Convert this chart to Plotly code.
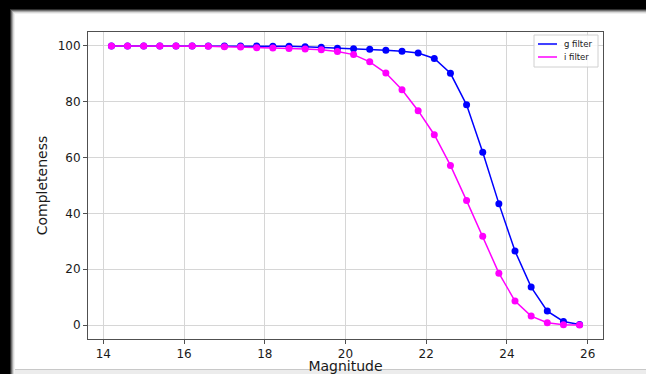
import plotly.graph_objects as go

magnitude = [14.2, 14.6, 15.0, 15.4, 15.8, 16.2, 16.6, 17.0, 17.4, 17.8,
             18.2, 18.6, 19.0, 19.4, 19.8, 20.2, 20.6, 21.0, 21.4, 21.8,
             22.2, 22.6, 23.0, 23.4, 23.8, 24.2, 24.6, 25.0, 25.4, 25.8]
g_filter = [100.0, 100.0, 100.0, 100.0, 100.0, 100.0, 100.0, 100.0, 100.0, 100.0,
            99.9, 99.9, 99.7, 99.5, 99.2, 99.0, 98.8, 98.5, 98.1, 97.5,
            95.5, 90.2, 78.9, 61.9, 43.5, 26.5, 13.6, 5.0, 1.3, 0.2]
i_filter = [100.0, 100.0, 100.0, 100.0, 100.0, 100.0, 99.9, 99.7, 99.6, 99.4,
            99.3, 99.1, 98.9, 98.6, 98.0, 96.9, 94.3, 90.3, 84.3, 76.8,
            68.2, 57.2, 44.6, 31.8, 18.6, 8.6, 3.2, 0.8, 0.1, 0.0]
series_names = ["g filter", "i filter"]
series_colors = ["#0000ff", "#ff00ff"]
x_ticks = [14, 16, 18, 20, 22, 24, 26]
y_ticks = [0, 20, 40, 60, 80, 100]

W, H = 646, 374
L, R, T, B = 88, 43, 32, 35
PW, PH = W - L - R, H - T - B

def px(x):
    return (x - L) / PW

def py(y):
    return (H - B - y) / PH

FONT = "DejaVu Sans"
fig = go.Figure()

for name, vals, col in zip(series_names, [g_filter, i_filter], series_colors):
    fig.add_trace(go.Scatter(
        x=magnitude, y=vals, mode="lines+markers", name=name,
        line=dict(color=col, width=1.5),
        marker=dict(color=col, size=7),
        showlegend=False,
    ))

shapes = []
annotations = []
# dark screenshot frame (top and left), with soft edge
shapes.append(dict(type="rect", xref="paper", yref="paper",
                   x0=px(0), x1=px(W), y0=py(9), y1=py(0),
                   fillcolor="black", line=dict(width=0), layer="above"))
shapes.append(dict(type="rect", xref="paper", yref="paper",
                   x0=px(0), x1=px(10), y0=py(H), y1=py(0),
                   fillcolor="black", line=dict(width=0), layer="above"))
grad = ["#303030", "#707070", "#a8a8a8", "#d8d8d8", "#f0f0f0"]
for k, c in enumerate(grad):
    shapes.append(dict(type="rect", xref="paper", yref="paper",
                       x0=px(10 + k), x1=px(W), y0=py(10 + k), y1=py(9 + k),
                       fillcolor=c, line=dict(width=0), layer="above"))
    shapes.append(dict(type="rect", xref="paper", yref="paper",
                       x0=px(10 + k), x1=px(11 + k), y0=py(H), y1=py(10 + k),
                       fillcolor=c, line=dict(width=0), layer="above"))
# bottom light edge
shapes.append(dict(type="line", xref="paper", yref="paper",
                   x0=px(15), x1=px(W), y0=py(369.5), y1=py(369.5),
                   line=dict(color="#c8c8c8", width=1), layer="above"))
shapes.append(dict(type="rect", xref="paper", yref="paper",
                   x0=px(15), x1=px(W), y0=py(H), y1=py(370),
                   fillcolor="#ececec", line=dict(width=0), layer="above"))

# legend box (matplotlib style)
shapes.append(dict(type="rect", xref="paper", yref="paper",
                   x0=px(534), x1=px(598), y0=py(67), y1=py(35),
                   fillcolor="rgba(255,255,255,0.85)",
                   line=dict(color="#d0d0d0", width=1), layer="above"))
for k, (name, col) in enumerate(zip(series_names, series_colors)):
    yy = 44 + 13 * k
    shapes.append(dict(type="line", xref="paper", yref="paper",
                       x0=px(538), x1=px(557), y0=py(yy), y1=py(yy),
                       line=dict(color=col, width=1.5), layer="above"))
    annotations.append(dict(xref="paper", yref="paper", x=px(562), y=py(yy),
                            xanchor="left", yanchor="middle", showarrow=False,
                            text=name, font=dict(family=FONT, size=8.5, color="#1a1a1a")))

fig.update_layout(
    width=W, height=H,
    margin=dict(l=L, r=R, t=T, b=B, autoexpand=False),
    paper_bgcolor="white", plot_bgcolor="white",
    font=dict(family=FONT, color="#1a1a1a", size=12),
    shapes=shapes, annotations=annotations,
    showlegend=False,
)
fig.update_xaxes(
    range=[13.62, 26.38], tickvals=x_ticks, ticktext=[str(v) for v in x_ticks],
    showgrid=True, gridcolor="#d6d6d6", gridwidth=1,
    showline=True, linecolor="#505050", linewidth=1, mirror=True,
    ticks="outside", ticklen=4, tickcolor="#505050", zeroline=False,
    tickfont=dict(size=12),
    title=dict(text="Magnitude", font=dict(size=14), standoff=4),
    automargin=False,
)
fig.update_yaxes(
    range=[-5, 105], tickvals=y_ticks, ticktext=[str(v) for v in y_ticks],
    showgrid=True, gridcolor="#d6d6d6", gridwidth=1,
    showline=True, linecolor="#505050", linewidth=1, mirror=True,
    ticks="outside", ticklen=4, tickcolor="#505050", zeroline=False,
    tickfont=dict(size=12),
    title=dict(text="Completeness", font=dict(size=14), standoff=6),
    automargin=False,
)

fig.write_html("out.html", config={"displayModeBar": False},
               post_script="document.body.style.margin='0';document.body.style.overflow='hidden';")
